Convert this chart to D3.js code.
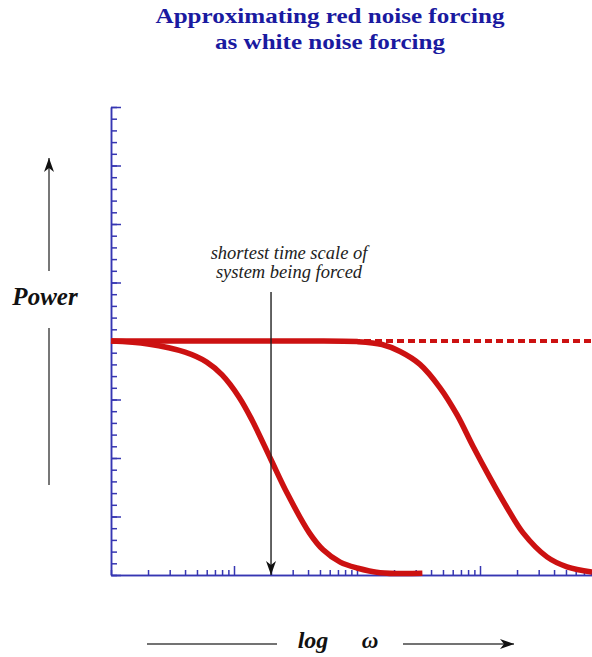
<!DOCTYPE html>
<html>
<head>
<meta charset="utf-8">
<script src="https://cdn.jsdelivr.net/npm/d3@7"></script>
<style>
body { margin: 0; background: #fff; }
svg { display: block; }
text { font-family: "Liberation Serif", "Times New Roman", serif; }
</style>
</head>
<body>
<svg id="chart" width="592" height="657"></svg>
<script>
var titleLines = ["Approximating red noise forcing", "as white noise forcing"];
var noteLines = ["shortest time scale of", "system being forced"];

// response of the system being forced (left curve)
var systemOmega = [1, 2, 4, 6, 8, 11, 14, 20, 27, 41, 53, 73, 100, 154, 340];
var systemPower = [4, 3.95, 3.81, 3.64, 3.42, 3.04, 2.65, 1.97, 1.4, 0.72, 0.43, 0.22, 0.12, 0.04, 0.03];

// red noise forcing spectrum (right curve)
var forcingOmega = [1, 30, 100, 160, 224, 325, 473, 650, 877, 1206, 1660, 2240, 3500, 5100, 8140];
var forcingPower = [4, 4, 3.99, 3.94, 3.82, 3.6, 3.2, 2.74, 2.2, 1.66, 1.15, 0.72, 0.31, 0.14, 0.05];

// white noise level (dashed)
var whiteOmega = [1, 10000];
var whitePower = [4, 4];

var shortestOmega = 20;
var xMajor = [10, 100, 1000, 10000];
var yMajor = [0, 1, 2, 3, 4, 5, 6, 7, 8];

var axisColor = "#3636b2";
var red = "#cc1111";

var svg = d3.select("#chart");

var x = d3.scaleLog().domain([1, 10000]).range([111, 603]);
var y = d3.scaleLinear().domain([0, 8]).range([575, 107]);

svg.append("defs").append("marker")
    .attr("id", "head")
    .attr("viewBox", "0 0 14 10")
    .attr("refX", 14).attr("refY", 5)
    .attr("markerWidth", 14).attr("markerHeight", 10)
    .attr("markerUnits", "userSpaceOnUse")
    .attr("orient", "auto")
    .append("path")
    .attr("d", "M0,0 L14,5 L0,10 L4,5 Z")
    .attr("fill", "#111");

// axes
function styleAxis(g) {
    g.selectAll("path, line").attr("stroke", axisColor).attr("stroke-width", 1.5);
    g.selectAll("text").remove();
}

svg.append("g")
    .attr("transform", "translate(0,575)")
    .call(d3.axisBottom(x).tickValues(x.ticks().filter(function(d) { return xMajor.indexOf(d) < 0; }))
        .tickSizeInner(-5).tickSizeOuter(0))
    .call(styleAxis);
svg.append("g")
    .attr("transform", "translate(0,575)")
    .call(d3.axisBottom(x).tickValues(xMajor).tickSizeInner(-9).tickSizeOuter(0))
    .call(styleAxis);

svg.append("g")
    .attr("transform", "translate(111,0)")
    .call(d3.axisLeft(y).tickValues(y.ticks(40)).tickSizeInner(-6).tickSizeOuter(0))
    .call(styleAxis);
svg.append("g")
    .attr("transform", "translate(111,0)")
    .call(d3.axisLeft(y).tickValues(yMajor).tickSizeInner(-10).tickSizeOuter(0))
    .call(styleAxis);

// curves
var line = d3.line()
    .x(function(d) { return x(d[0]); })
    .y(function(d) { return y(d[1]); })
    .curve(d3.curveCatmullRom.alpha(0.5));

svg.append("path")
    .datum(d3.zip(whiteOmega, whitePower))
    .attr("d", line)
    .attr("fill", "none")
    .attr("stroke", red)
    .attr("stroke-width", 4)
    .attr("stroke-dasharray", "7,4");

svg.append("path")
    .datum(d3.zip(forcingOmega, forcingPower))
    .attr("d", line)
    .attr("fill", "none")
    .attr("stroke", red)
    .attr("stroke-width", 5.5);

svg.append("path")
    .datum(d3.zip(systemOmega, systemPower))
    .attr("d", line)
    .attr("fill", "none")
    .attr("stroke", red)
    .attr("stroke-width", 5.5);

// annotation arrow
svg.append("line")
    .attr("x1", x(shortestOmega)).attr("x2", x(shortestOmega))
    .attr("y1", 292).attr("y2", y(0))
    .attr("stroke", "#222").attr("stroke-width", 1.4)
    .attr("marker-end", "url(#head)");

svg.selectAll(".note")
    .data(noteLines)
    .enter().append("text")
    .attr("x", 289)
    .attr("y", function(d, i) { return 259 + i * 19; })
    .attr("text-anchor", "middle")
    .attr("font-style", "italic")
    .attr("font-size", 18.5)
    .attr("fill", "#222")
    .text(function(d) { return d; });

// title (the original is slightly stretched sideways)
svg.selectAll(".title")
    .data(titleLines)
    .enter().append("text")
    .attr("transform", function(d, i) { return "translate(330," + (23 + i * 26) + ") scale(1.14,1)"; })
    .attr("text-anchor", "middle")
    .attr("font-weight", "bold")
    .attr("font-size", 22)
    .attr("fill", "#1a1aa0")
    .text(function(d) { return d; });

// y label with arrow
svg.append("line")
    .attr("x1", 49).attr("x2", 49).attr("y1", 271).attr("y2", 158)
    .attr("stroke", "#555").attr("stroke-width", 1.6)
    .attr("marker-end", "url(#head)");
svg.append("line")
    .attr("x1", 49).attr("x2", 49).attr("y1", 328).attr("y2", 485)
    .attr("stroke", "#555").attr("stroke-width", 1.6);
svg.append("text")
    .attr("x", 45).attr("y", 305)
    .attr("text-anchor", "middle")
    .attr("font-weight", "bold").attr("font-style", "italic")
    .attr("font-size", 25)
    .attr("fill", "#111")
    .text("Power");

// x label with arrow
svg.append("line")
    .attr("x1", 147).attr("x2", 277).attr("y1", 644).attr("y2", 644)
    .attr("stroke", "#444").attr("stroke-width", 1.6);
svg.append("line")
    .attr("x1", 403).attr("x2", 514).attr("y1", 644).attr("y2", 644)
    .attr("stroke", "#444").attr("stroke-width", 1.6)
    .attr("marker-end", "url(#head)");
svg.append("text")
    .attr("x", 313).attr("y", 648)
    .attr("text-anchor", "middle")
    .attr("font-weight", "bold").attr("font-style", "italic")
    .attr("font-size", 24)
    .attr("fill", "#111")
    .text("log");
svg.append("text")
    .attr("x", 370).attr("y", 648)
    .attr("text-anchor", "middle")
    .attr("font-weight", "bold").attr("font-style", "italic")
    .attr("font-size", 23)
    .attr("fill", "#111")
    .text("ω");
</script>
</body>
</html>
